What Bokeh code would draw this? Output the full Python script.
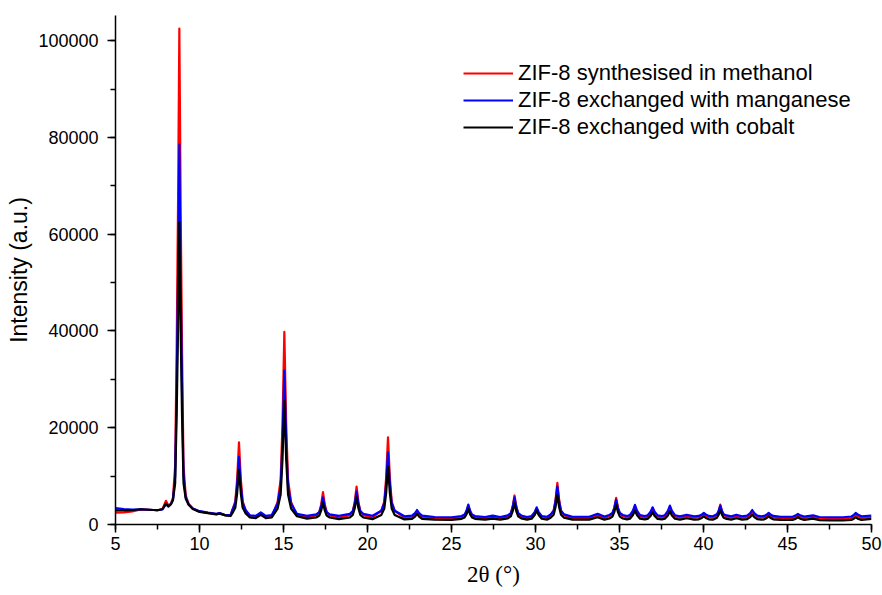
from bokeh.plotting import figure
from bokeh.models import (Range1d, SingleIntervalTicker, BasicTickFormatter,
                          Legend, LegendItem, ColumnDataSource)
from bokeh.embed import file_html
from bokeh.resources import INLINE

two_theta = [
    5.0, 5.5, 6.0, 6.5, 7.0, 7.5, 7.8, 8.0, 8.15, 8.3,
    8.42, 8.55, 8.64, 8.72, 8.8, 8.88, 8.96, 9.05, 9.18, 9.35, 9.6,
    10.0, 10.5, 11.0, 11.2, 11.5, 11.85,
    11.95, 12.13, 12.24, 12.35, 12.46, 12.57, 12.75,
    13.0, 13.35, 13.65, 13.95, 14.3,
    14.65, 14.83, 14.94, 15.05, 15.16, 15.27, 15.45, 15.8, 16.4,
    16.95, 17.13, 17.24, 17.35, 17.46, 17.57, 17.75, 18.3,
    18.95, 19.13, 19.24, 19.35, 19.46, 19.57, 19.75, 20.3,
    20.82, 21.0, 21.11, 21.22, 21.33, 21.44, 21.62, 22.2,
    22.65, 22.83, 22.95, 23.07, 23.25, 24.0, 25.0,
    25.6, 25.78, 25.89, 26.0, 26.11, 26.22, 26.4, 27.0, 27.45, 27.9,
    28.35, 28.53, 28.64, 28.75, 28.86, 28.97, 29.15, 29.5,
    29.77, 29.95, 30.07, 30.19, 30.37, 30.7,
    30.9, 31.08, 31.19, 31.3, 31.41, 31.52, 31.7, 32.2, 33.2, 33.7, 34.1,
    34.4, 34.58, 34.69, 34.8, 34.91, 35.02, 35.2, 35.45,
    35.62, 35.8, 35.92, 36.04, 36.22, 36.5,
    36.67, 36.85, 36.97, 37.09, 37.27, 37.52,
    37.7, 37.88, 38.0, 38.12, 38.3, 38.6, 39.0, 39.45,
    39.72, 39.9, 40.02, 40.14, 40.32, 40.55,
    40.65, 40.8, 40.9, 41.0, 41.1, 41.2, 41.38, 41.65, 41.96, 42.3,
    42.6, 42.78, 42.9, 43.02, 43.2, 43.45,
    43.62, 43.77, 43.88, 43.99, 44.15, 44.6, 45.3,
    45.5, 45.62, 45.75, 46.0, 46.52, 46.9, 47.5, 48.3,
    48.8, 48.95, 49.06, 49.18, 49.4, 50.0,
]

intensity_methanol = [
    2450, 2500, 2700, 3100, 3050, 2950, 3200, 4900, 3900, 4300,
    5500, 12000, 36000, 65000, 102500, 65000, 36000, 12000, 6000, 4300, 3300,
    2700, 2400, 2150, 2300, 1950, 1850,
    2900, 4800, 9350, 17000, 9350, 4800, 2900,
    1550, 1400, 2200, 1450, 1600,
    4650, 9250, 20700, 39800, 20700, 9250, 4650, 1900, 1500,
    1900, 2550, 4100, 6700, 4100, 2550, 1900, 1450,
    1950, 2750, 4650, 7850, 4650, 2750, 1950, 1450,
    2800, 4750, 9700, 18000, 9700, 4750, 2800, 1400,
    1530, 2050, 2700, 2050, 1530, 1300, 1300,
    1500, 1820, 2600, 3900, 2600, 1820, 1500, 1300, 1600, 1300,
    1680, 2240, 3650, 6000, 3650, 2240, 1680, 1300,
    1500, 2330, 3350, 2330, 1500, 1350,
    1930, 2800, 5000, 8600, 5000, 2800, 1930, 1300, 1300, 1900, 1350,
    1730, 2220, 3450, 5500, 3450, 2220, 1730, 1450,
    1630, 2550, 3700, 2550, 1630, 1450,
    1600, 2380, 3350, 2380, 1600, 1450,
    1630, 2550, 3700, 2550, 1630, 1400, 1700, 1400,
    1480, 1800, 2200, 1800, 1480, 1400,
    1620, 1940, 2750, 4100, 2750, 1940, 1620, 1400, 1700, 1400,
    1530, 2050, 2700, 2050, 1530, 1400,
    1480, 1800, 2200, 1800, 1480, 1300, 1300,
    1600, 1950, 1600, 1350, 1600, 1250, 1150, 1150,
    1300, 1700, 2050, 1700, 1350, 1500,
]

intensity_manganese = [
    3400, 3200, 3100, 3150, 3050, 2950, 3100, 4200, 3700, 4200,
    5200, 10000, 28000, 50000, 78500, 50000, 28000, 10000, 5600, 4200, 3300,
    2750, 2450, 2200, 2350, 2000, 1950,
    2950, 4400, 8000, 14000, 8000, 4400, 2950,
    1900, 1800, 2500, 1800, 1950,
    4300, 7900, 16850, 31800, 16850, 7900, 4300, 2200, 1800,
    2100, 2550, 3700, 5600, 3700, 2550, 2100, 1800,
    2200, 2800, 4300, 6800, 4300, 2800, 2200, 1800,
    2850, 4400, 8350, 14900, 8350, 4400, 2850, 1700,
    1830, 2350, 3000, 2350, 1830, 1550, 1500,
    1750, 2060, 2830, 4100, 2830, 2060, 1750, 1550, 1850, 1550,
    1870, 2360, 3580, 5600, 3580, 2360, 1870, 1550,
    1750, 2550, 3550, 2550, 1750, 1600,
    2100, 2850, 4730, 7850, 4730, 2850, 2100, 1600, 1600, 2200, 1650,
    1970, 2380, 3400, 5100, 3400, 2380, 1970, 1750,
    1940, 2880, 4050, 2880, 1940, 1750,
    1890, 2630, 3550, 2630, 1890, 1750,
    1920, 2800, 3900, 2800, 1920, 1700, 2000, 1700,
    1770, 2050, 2400, 2050, 1770, 1700,
    1880, 2140, 2800, 3900, 2800, 2140, 1880, 1700, 2000, 1700,
    1830, 2350, 3000, 2350, 1830, 1700,
    1770, 2050, 2400, 2050, 1770, 1600, 1600,
    1900, 2200, 1900, 1650, 1900, 1550, 1500, 1500,
    1650, 2000, 2400, 2050, 1700, 1850,
]

intensity_cobalt = [
    2900, 2900, 2950, 3150, 3050, 2950, 3200, 4300, 3800, 4200,
    5000, 8500, 22500, 40000, 62500, 40000, 22500, 8500, 5300, 4100, 3200,
    2600, 2350, 2100, 2250, 1900, 1750,
    2300, 3450, 6400, 11300, 6400, 3450, 2300,
    1450, 1300, 2000, 1300, 1450,
    3300, 6200, 13450, 25500, 13450, 6200, 3300, 1700, 1200,
    1450, 1850, 2850, 4500, 2850, 1850, 1450, 1100,
    1450, 2000, 3350, 5600, 3350, 2000, 1450, 1100,
    1950, 3300, 6550, 12000, 6550, 3300, 1950, 1050,
    1165, 1625, 2200, 1625, 1165, 1000, 970,
    1180, 1440, 2100, 3200, 2100, 1440, 1180, 1000, 1200, 1000,
    1270, 1680, 2700, 4400, 2700, 1680, 1270, 1000,
    1190, 1950, 2900, 1950, 1190, 1000,
    1410, 2020, 3550, 6100, 3550, 2020, 1410, 1000, 1000, 1500, 1000,
    1250, 1620, 2550, 4100, 2550, 1620, 1250, 1050,
    1190, 1950, 2900, 1950, 1190, 1050,
    1150, 1780, 2550, 1780, 1150, 1050,
    1180, 1880, 2750, 1880, 1180, 1000, 1300, 1000,
    1070, 1350, 1700, 1350, 1070, 1000,
    1160, 1400, 2000, 3000, 2000, 1400, 1160, 1000, 1300, 1000,
    1100, 1530, 2050, 1530, 1100, 1000,
    1070, 1350, 1700, 1350, 1070, 950, 950,
    1200, 1500, 1200, 950, 1200, 900, 830, 830,
    950, 1200, 1500, 1200, 950, 1150,
]

series_labels = [
    "ZIF-8 synthesised in methanol",
    "ZIF-8 exchanged with manganese",
    "ZIF-8 exchanged with cobalt",
]
series_colors = ["#ff0000", "#0000ff", "#000000"]

x_ticks_interval = 5
y_ticks_interval = 20000

p = figure(width=882, height=595, output_backend="svg", toolbar_location=None,
           x_range=Range1d(5, 50), y_range=Range1d(0, 105200),
           min_border_left=115, min_border_right=11, min_border_top=15,
           min_border_bottom=71)

p.outline_line_color = None
p.xgrid.visible = False
p.ygrid.visible = False
p.background_fill_color = "white"
p.border_fill_color = "white"

src = ColumnDataSource(dict(x=two_theta, m=intensity_methanol,
                            mn=intensity_manganese, co=intensity_cobalt))
renderers = []
for col, color in zip(["m", "mn", "co"], series_colors):
    r = p.line("x", col, source=src, line_color=color, line_width=2.2,
               line_join="round")
    renderers.append(r)

legend = Legend(items=[LegendItem(label=lab, renderers=[r])
                       for lab, r in zip(series_labels, renderers)],
                location=(348, 384))
legend.border_line_color = None
legend.background_fill_alpha = 0
legend.padding = 0
legend.spacing = 1
legend.glyph_width = 50
legend.glyph_height = 22
legend.label_height = 22
legend.label_standoff = 5
legend.label_text_font = "Liberation Sans"
legend.label_text_font_size = "22px"
legend.label_text_color = "black"
p.add_layout(legend)

xa = p.xaxis[0]
xa.ticker = SingleIntervalTicker(interval=x_ticks_interval, num_minor_ticks=2)
ya = p.yaxis[0]
ya.ticker = SingleIntervalTicker(interval=y_ticks_interval, num_minor_ticks=2)
ya.formatter = BasicTickFormatter(use_scientific=False)

for ax in (xa, ya):
    ax.axis_line_width = 1.5
    ax.axis_line_color = "black"
    ax.major_tick_line_width = 1.5
    ax.minor_tick_line_width = 1.5
    ax.major_tick_line_color = "black"
    ax.minor_tick_line_color = "black"
    ax.major_tick_in = 0
    ax.minor_tick_in = 0
    ax.major_tick_out = 8
    ax.minor_tick_out = 5
    ax.major_label_text_font = "Liberation Sans"
    ax.major_label_text_font_size = "18px"
    ax.major_label_text_color = "black"
    ax.axis_label_text_color = "black"
    ax.axis_label_text_font_style = "normal"

xa.major_label_standoff = 4
ya.major_label_standoff = 9
xa.axis_label = "2θ (°)"
xa.axis_label_text_font = "Liberation Serif"
xa.axis_label_text_font_size = "23px"
xa.axis_label_standoff = 9
ya.axis_label = "Intensity (a.u.)"
ya.axis_label_text_font = "Liberation Sans"
ya.axis_label_text_font_size = "23px"
ya.axis_label_standoff = 3

open("out.html", "w").write(file_html(p, INLINE))
